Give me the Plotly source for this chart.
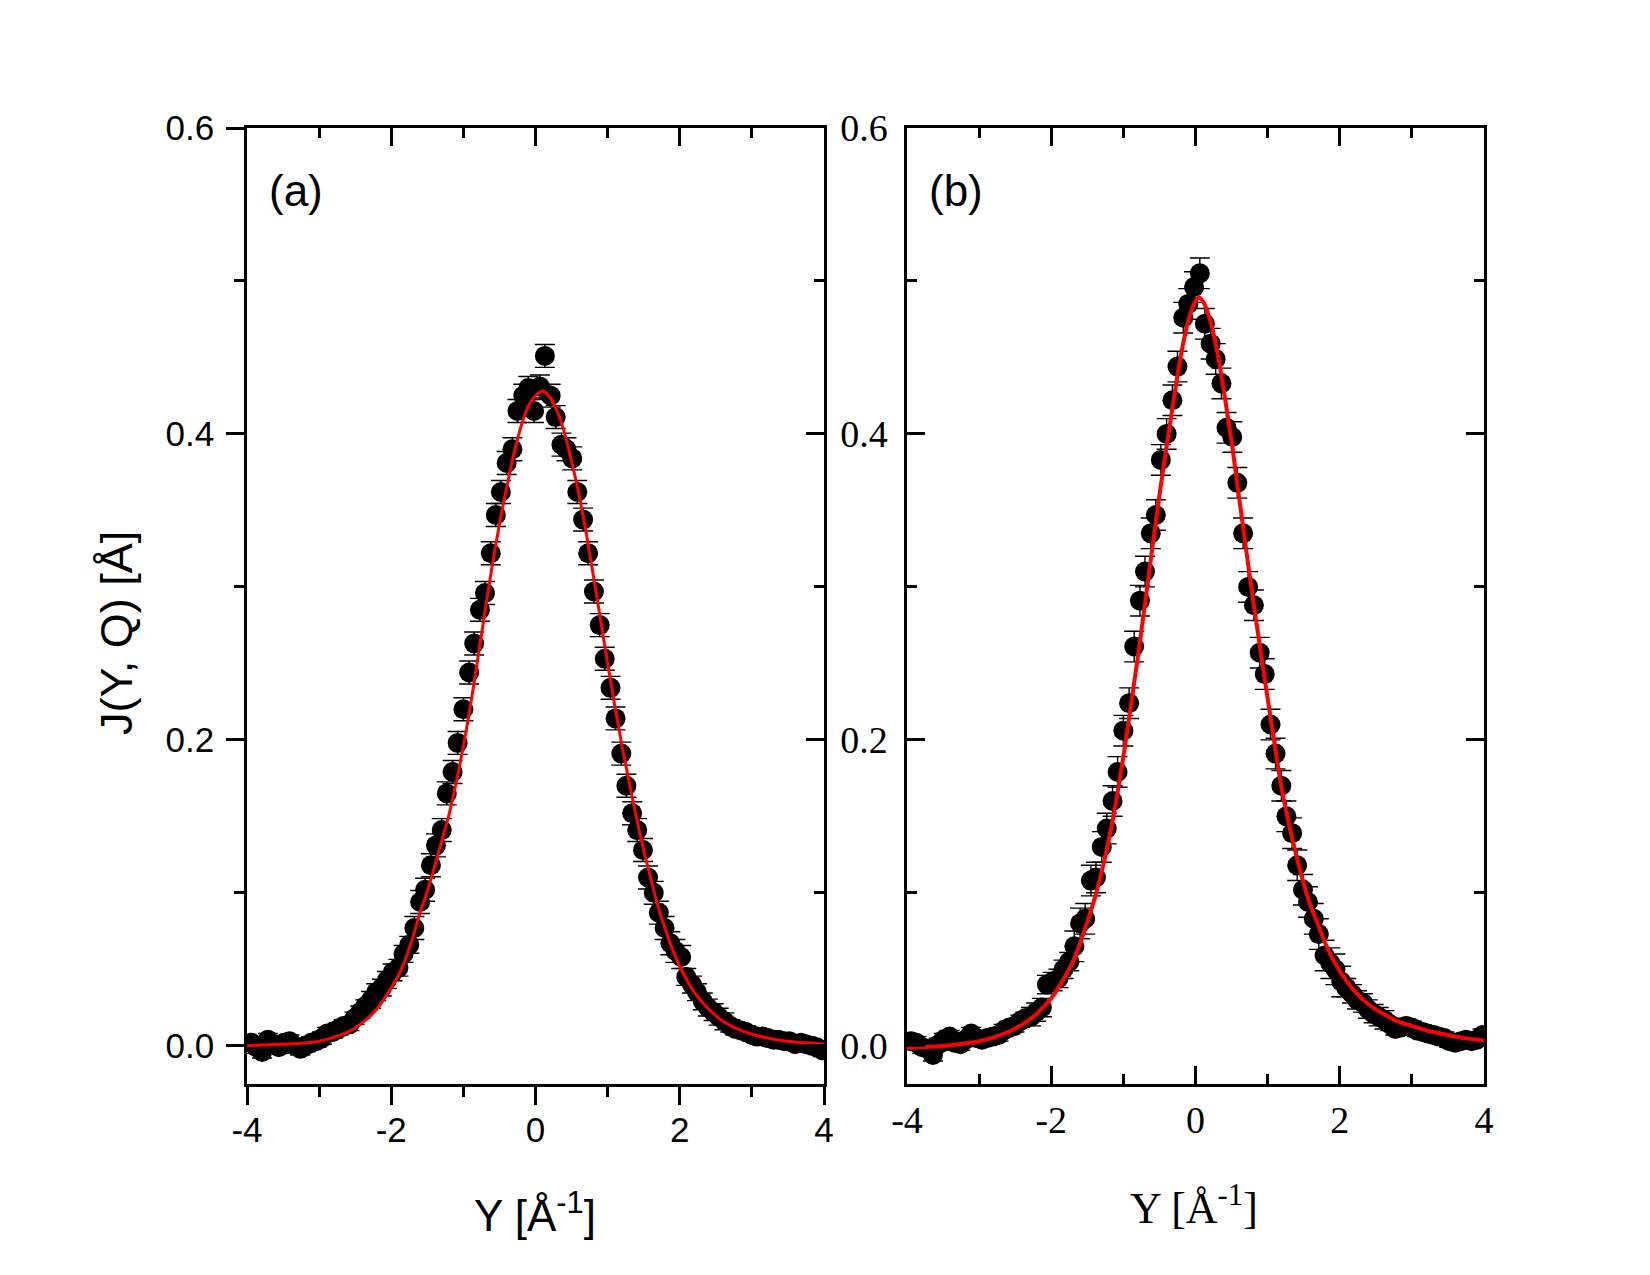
import plotly.graph_objects as go

# ---------------- data ----------------
data_x = [-3.94, -3.87, -3.79, -3.71, -3.64, -3.56, -3.49, -3.41, -3.34, -3.26,
          -3.19, -3.11, -3.04, -2.96, -2.89, -2.81, -2.73, -2.66, -2.58, -2.51,
          -2.43, -2.36, -2.28, -2.21, -2.13, -2.06, -1.98, -1.90, -1.83, -1.75,
          -1.68, -1.60, -1.53, -1.45, -1.38, -1.30, -1.23, -1.15, -1.08, -1.00,
          -0.92, -0.85, -0.77, -0.70, -0.62, -0.55, -0.48, -0.40, -0.32, -0.25,
          -0.17, -0.10, -0.02, 0.06, 0.13, 0.21, 0.28, 0.36, 0.43, 0.51,
          0.58, 0.66, 0.73, 0.81, 0.89, 0.96, 1.04, 1.11, 1.19, 1.26,
          1.34, 1.41, 1.49, 1.56, 1.64, 1.71, 1.79, 1.87, 1.94, 2.02,
          2.09, 2.17, 2.24, 2.32, 2.39, 2.47, 2.54, 2.62, 2.70, 2.77,
          2.85, 2.92, 3.00, 3.07, 3.15, 3.22, 3.30, 3.37, 3.45, 3.52,
          3.60, 3.68, 3.75, 3.83, 3.90, 3.98]

data_a = [0.002, -0.001, -0.004, 0.004, 0.001, -0.001, 0.002, 0.003, 0.000, -0.002,
          0.000, 0.002, 0.003, 0.005, 0.008, 0.009, 0.011, 0.013, 0.014, 0.018,
          0.022, 0.026, 0.030, 0.035, 0.038, 0.043, 0.048, 0.051, 0.060, 0.066,
          0.077, 0.094, 0.102, 0.118, 0.131, 0.141, 0.165, 0.179, 0.198, 0.220,
          0.244, 0.263, 0.285, 0.296, 0.322, 0.347, 0.362, 0.381, 0.390, 0.415,
          0.425, 0.430, 0.415, 0.431, 0.451, 0.425, 0.411, 0.393, 0.390, 0.384,
          0.362, 0.344, 0.322, 0.297, 0.275, 0.253, 0.234, 0.214, 0.191, 0.170,
          0.152, 0.141, 0.128, 0.110, 0.100, 0.087, 0.077, 0.067, 0.062, 0.058,
          0.045, 0.040, 0.035, 0.029, 0.025, 0.022, 0.019, 0.016, 0.013, 0.011,
          0.010, 0.009, 0.007, 0.006, 0.006, 0.005, 0.004, 0.004, 0.003, 0.003,
          0.001, 0.002, 0.001, 0.000, -0.001, -0.003]

data_b = [0.003, 0.002, -0.001, -0.002, -0.006, 0.001, 0.004, 0.006, 0.002, 0.001,
          0.004, 0.008, 0.005, 0.004, 0.005, 0.006, 0.007, 0.010, 0.012, 0.013,
          0.016, 0.018, 0.019, 0.022, 0.025, 0.040, 0.042, 0.044, 0.050, 0.055,
          0.065, 0.080, 0.083, 0.108, 0.110, 0.130, 0.142, 0.160, 0.179, 0.206,
          0.224, 0.261, 0.291, 0.310, 0.335, 0.347, 0.383, 0.400, 0.422, 0.444,
          0.476, 0.485, 0.496, 0.505, 0.472, 0.459, 0.449, 0.433, 0.404, 0.398,
          0.368, 0.335, 0.300, 0.288, 0.257, 0.243, 0.210, 0.191, 0.170, 0.150,
          0.139, 0.118, 0.102, 0.094, 0.083, 0.073, 0.059, 0.054, 0.050, 0.042,
          0.038, 0.034, 0.030, 0.028, 0.024, 0.021, 0.019, 0.017, 0.014, 0.011,
          0.012, 0.013, 0.012, 0.010, 0.009, 0.008, 0.007, 0.006, 0.005, 0.003,
          0.002, 0.003, 0.004, 0.003, 0.004, 0.007]

# error bars: small in the tails, larger near the peak
err_a = [0.004] * 22 + [0.0055] * 8 + [0.0075] * 50 + [0.0055] * 8 + [0.004] * 18
err_b = [0.004] * 22 + [0.006] * 8 + [0.0100] * 50 + [0.006] * 8 + [0.004] * 18

fit_x = [-4.0, -3.8, -3.6, -3.4, -3.2, -3.0, -2.8, -2.6, -2.4, -2.2,
         -2.0, -1.9, -1.8, -1.7, -1.6, -1.5, -1.4, -1.3, -1.2, -1.1,
         -1.0, -0.9, -0.8, -0.7, -0.6, -0.5, -0.4, -0.3, -0.2, -0.1,
         0.0, 0.05, 0.1, 0.2, 0.3, 0.4, 0.5, 0.6, 0.7, 0.8, 0.9,
         1.0, 1.1, 1.2, 1.3, 1.4, 1.5, 1.6, 1.7, 1.8, 1.9,
         2.0, 2.2, 2.4, 2.6, 2.8, 3.0, 3.2, 3.4, 3.6, 3.8, 4.0]

fit_a = [0.000, 0.0005, 0.0008, 0.0012, 0.0018, 0.003, 0.0055, 0.009, 0.015, 0.024,
         0.038, 0.046, 0.057, 0.071, 0.087, 0.101, 0.117, 0.134, 0.151, 0.172,
         0.196, 0.223, 0.253, 0.284, 0.314, 0.341, 0.365, 0.387, 0.405, 0.418,
         0.425, 0.427, 0.428, 0.424, 0.415, 0.401, 0.382, 0.361, 0.336, 0.308, 0.279,
         0.250, 0.222, 0.196, 0.172, 0.149, 0.128, 0.109, 0.091, 0.076, 0.063,
         0.052, 0.035, 0.024, 0.016, 0.011, 0.0075, 0.0052, 0.0035, 0.0025, 0.0018, 0.0012]

fit_b = [-0.0015, -0.001, -0.0005, 0.0003, 0.0015, 0.003, 0.0055, 0.009, 0.014, 0.021,
         0.031, 0.038, 0.046, 0.055, 0.067, 0.081, 0.096, 0.114, 0.135, 0.160,
         0.189, 0.221, 0.254, 0.289, 0.325, 0.360, 0.392, 0.423, 0.452, 0.474,
         0.487, 0.489, 0.487, 0.475, 0.454, 0.426, 0.395, 0.360, 0.325, 0.291, 0.259,
         0.227, 0.196, 0.167, 0.144, 0.124, 0.106, 0.091, 0.079, 0.067, 0.057,
         0.049, 0.036, 0.027, 0.021, 0.016, 0.013, 0.010, 0.008, 0.006, 0.0045, 0.0035]

x_tickvals = [-4, -2, 0, 2, 4]
x_ticktext = ["-4", "-2", "0", "2", "4"]
y_tickvals = [0.0, 0.2, 0.4, 0.6]
y_ticktext = ["0.0", "0.2", "0.4", "0.6"]

x_range = [-4, 4]
y_range = [-0.025, 0.6]

x_title = "Y [Å<sup>-1</sup>]"
y_title = "J(Y, Q) [Å]"

# ---------------- styling / layout ----------------
SANS = "Liberation Sans, Arial, sans-serif"
SERIF = "Liberation Serif, Times New Roman, serif"
LW = 2.5
MAJ = 18
MIN = 10

W, H = 1650, 1275
ML, MR, MT, MB = 247, W - 1484, 128, H - 1084
PW = W - ML - MR
PH = H - MT - MB
dom_xa = [0, 577 / PW]
dom_xb = [660 / PW, 1]


def px_to_paper(px, py):
    """convert a figure pixel position into plot-area paper coordinates"""
    return (px - ML) / PW, (H - MB - py) / PH


fig = go.Figure()

marker = dict(color="black", size=20, line=dict(width=0))

fig.add_trace(go.Scatter(x=data_x, y=data_a, mode="markers", marker=marker,
                         error_y=dict(type="data", array=err_a, color="black",
                                      thickness=1.4, width=10),
                         xaxis="x", yaxis="y", showlegend=False, hoverinfo="skip"))
fig.add_trace(go.Scatter(x=fit_x, y=fit_a, mode="lines",
                         line=dict(color="#ff0000", width=3, shape="spline"),
                         xaxis="x", yaxis="y", showlegend=False, hoverinfo="skip"))
fig.add_trace(go.Scatter(x=data_x, y=data_b, mode="markers", marker=marker,
                         error_y=dict(type="data", array=err_b, color="black",
                                      thickness=1.4, width=10),
                         xaxis="x2", yaxis="y2", showlegend=False, hoverinfo="skip"))
fig.add_trace(go.Scatter(x=fit_x, y=fit_b, mode="lines",
                         line=dict(color="#ff0000", width=4, shape="spline"),
                         xaxis="x2", yaxis="y2", showlegend=False, hoverinfo="skip"))
# empty traces so that the inward-tick top / right axes of panel (a) get drawn
fig.add_trace(go.Scatter(x=[None], y=[None], xaxis="x3", yaxis="y", showlegend=False,
                         hoverinfo="skip", mode="markers"))
fig.add_trace(go.Scatter(x=[None], y=[None], xaxis="x", yaxis="y3", showlegend=False,
                         hoverinfo="skip", mode="markers"))

common_x = dict(range=x_range, autorange=False, showgrid=False, zeroline=False,
                tickvals=x_tickvals, ticktext=x_ticktext, automargin=False,
                ticklen=MAJ, tickwidth=LW, tickcolor="black",
                showline=True, linewidth=LW, linecolor="black")
common_y = dict(range=y_range, autorange=False, showgrid=False, zeroline=False,
                tickvals=y_tickvals, ticktext=y_ticktext, automargin=False,
                ticklen=MAJ, tickwidth=LW, tickcolor="black",
                showline=True, linewidth=LW, linecolor="black")
minor_x = dict(dtick=1, tick0=0, ticklen=MIN, tickwidth=LW, tickcolor="black", showgrid=False)
minor_y = dict(dtick=0.1, tick0=0, ticklen=MIN, tickwidth=LW, tickcolor="black", showgrid=False)

xa_t, ya_t = px_to_paper(535, 1212)
xb_t, yb_t = px_to_paper(1194, 1205)
xy_t, yy_t = px_to_paper(116, 633)

fig.update_layout(
    width=W, height=H,
    margin=dict(l=ML, r=MR, t=MT, b=MB, autoexpand=False),
    paper_bgcolor="white", plot_bgcolor="white",
    showlegend=False,
    # ---- panel (a)
    xaxis=dict(**common_x, domain=dom_xa, anchor="y", ticks="outside", mirror=True,
               minor=dict(**minor_x, ticks="outside"),
               tickfont=dict(family=SANS, size=35, color="black"), ticklabelstandoff=-5),
    yaxis=dict(**common_y, domain=[0, 1], anchor="x", ticks="outside", mirror=True,
               minor=dict(**minor_y, ticks="outside"),
               tickfont=dict(family=SANS, size=35, color="black"), ticklabelstandoff=5),
    xaxis3=dict(range=x_range, autorange=False, overlaying="x", anchor="y", side="top",
                showgrid=False, zeroline=False, showline=False, showticklabels=False,
                automargin=False,
                tickvals=x_tickvals, ticks="inside", ticklen=MAJ, tickwidth=LW, tickcolor="black",
                minor=dict(**minor_x, ticks="inside")),
    yaxis3=dict(range=y_range, autorange=False, overlaying="y", anchor="x", side="right",
                showgrid=False, zeroline=False, showline=False, showticklabels=False,
                automargin=False,
                tickvals=y_tickvals, ticks="inside", ticklen=MAJ, tickwidth=LW, tickcolor="black",
                minor=dict(**minor_y, ticks="inside")),
    # ---- panel (b)
    xaxis2=dict(**common_x, domain=dom_xb, anchor="y2", ticks="inside", mirror="ticks",
                minor=dict(**minor_x, ticks="inside"),
                tickfont=dict(family=SERIF, size=38, color="black"), ticklabelstandoff=1),
    yaxis2=dict(**common_y, domain=[0, 1], anchor="x2", ticks="inside", mirror="ticks",
                minor=dict(**minor_y, ticks="inside"),
                tickfont=dict(family=SERIF, size=38, color="black"), ticklabelstandoff=9),
    annotations=[
        dict(text="(a)", x=0.035, y=0.935, xref="x domain", yref="y domain",
             xanchor="left", yanchor="middle", showarrow=False,
             font=dict(family=SANS, size=44, color="black")),
        dict(text="(b)", x=0.035, y=0.935, xref="x2 domain", yref="y2 domain",
             xanchor="left", yanchor="middle", showarrow=False,
             font=dict(family=SANS, size=44, color="black")),
        # axis titles
        dict(text=x_title, x=xa_t, y=ya_t, xref="paper", yref="paper",
             xanchor="center", yanchor="middle", showarrow=False,
             font=dict(family=SANS, size=44, color="black")),
        dict(text=x_title, x=xb_t, y=yb_t, xref="paper", yref="paper",
             xanchor="center", yanchor="middle", showarrow=False,
             font=dict(family=SERIF, size=44, color="black")),
        dict(text=y_title, x=xy_t, y=yy_t, xref="paper", yref="paper",
             xanchor="center", yanchor="middle", showarrow=False, textangle=-90,
             font=dict(family=SANS, size=45, color="black")),
    ],
)

fig.write_html("out.html")
